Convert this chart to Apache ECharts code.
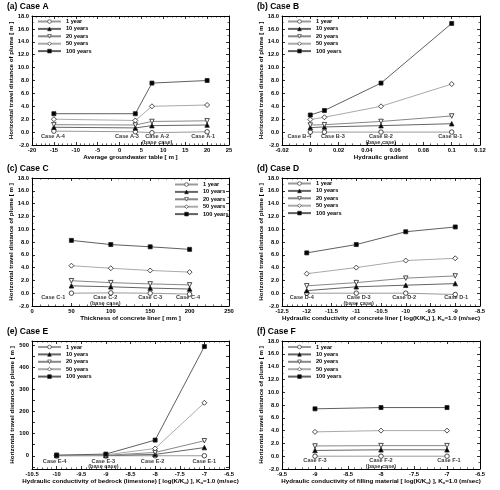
<!DOCTYPE html>
<html><head><meta charset="utf-8">
<script src="https://cdn.jsdelivr.net/npm/echarts@6/dist/echarts.min.js"></script>
<style>html,body{margin:0;padding:0;background:#fff}#c{width:500px;height:490px}</style>
</head><body><div id="c"></div>
<script>
// ---- data ----
const seriesNames = ['1 year', '10 years', '20 years', '50 years', '100 years'];

const aX = [-15, 3.6, 7.4, 20];
const a1 = [0.15, 0.05, -0.1, 0.05];
const a10 = [0.75, 0.65, 1.0, 1.1];
const a20 = [1.15, 1.1, 1.65, 1.75];
const a50 = [2.0, 1.8, 4.0, 4.2];
const a100 = [2.85, 2.85, 7.6, 8.0];
const aCases = ['Case A-4', 'Case A-3', 'Case A-2\n(base case)', 'Case A-1'];
const aCaseX = [-15.2, 1.7, 8.6, 19.1];

const bX = [0, 0.01, 0.05, 0.1];
const b1 = [0, 0, 0, 0];
const b10 = [0.7, 0.8, 1.0, 1.3];
const b20 = [1.1, 1.15, 1.65, 2.5];
const b50 = [1.95, 2.3, 4.0, 7.45];
const b100 = [2.65, 3.35, 7.6, 16.85];
const bCases = ['Case B-4', 'Case B-3', 'Case B-2\n(base case)', 'Case B-1'];
const bCaseX = [-0.0077, 0.016, 0.05, 0.099];

const cX = [50, 100, 150, 200];
const c1 = [0, 0.05, 0, -0.15];
const c10 = [1.15, 1.0, 0.8, 0.65];
const c20 = [1.95, 1.65, 1.45, 1.3];
const c50 = [4.3, 3.9, 3.55, 3.3];
const c100 = [8.25, 7.6, 7.25, 6.85];
const cCases = ['Case C-1', 'Case C-2\n(base case)', 'Case C-3', 'Case C-4'];
const cCaseX = [27, 93, 150, 198];

const dX = [-12, -11, -10, -9];
const d1 = [0, 0, 0, -0.2];
const d10 = [0.4, 1.0, 1.25, 1.5];
const d20 = [1.15, 1.65, 2.35, 2.7];
const d50 = [3.05, 4.0, 5.1, 5.45];
const d100 = [6.3, 7.6, 9.6, 10.35];
const dCases = ['Case D-4', 'Case D-3\n(base case)', 'Case D-2', 'Case D-1'];
const dCaseX = [-12.1, -10.95, -10.03, -8.98];

const eX = [-10, -9, -8, -7];
const e1 = [0, 0, 0, 0];
const e10 = [0.7, 1.0, 6, 37];
const e20 = [1.1, 1.65, 15, 68];
const e50 = [2.0, 4.0, 33, 240];
const e100 = [2.8, 7.6, 71, 495];
const eCases = ['Case E-4', 'Case E-3\n(base case)', 'Case E-2', 'Case E-1'];
const eCaseX = [-10.04, -9.05, -8.05, -7.0];

const fX = [-9, -8, -7];
const f1 = [0, 0, 0];
const f10 = [0.9, 1.0, 1.0];
const f20 = [1.6, 1.65, 1.65];
const f50 = [3.8, 4.0, 4.0];
const f100 = [7.4, 7.6, 7.6];
const fCases = ['Case F-3', 'Case F-2\n(base case)', 'Case F-1'];
const fCaseX = [-9.0, -8.0, -6.97];

const yTicksE = [0, 100, 200, 300, 400, 500];
const yMinorTicksE = [-50, 0, 50, 100, 150, 200, 250, 300, 350, 400, 450, 500];

// ---- styling ----
const FONT = 'Liberation Sans, Arial, Helvetica, sans-serif';
const lineColors = ['#9a9a9a', '#666666', '#888888', '#aaaaaa', '#606060'];
const fills = ['#fff', '#000', '#fff', '#fff', '#000'];
const symbols = ['circle', 'triangle', 'triangle', 'diamond', 'rect'];
const rotates = [0, 0, 180, 0, 0];
const symSizes = [4.5, 4.5, 4.5, 5, 4];

const option = {
  animation: false,
  backgroundColor: '#fff',
  textStyle: { fontFamily: FONT },
  title: [], legend: [], grid: [], xAxis: [], yAxis: [], series: []
};

function subName(prefix) {
  return '{a|' + prefix + ' [ log(K/K}{s|o}{a|) ], K}{s|o}{a|=1.0 (m/sec)}';
}

function panel(i, p) {
  option.title.push({
    text: p.title, left: p.left - 25, top: p.top - 14, padding: 0,
    textStyle: { fontSize: 8.5, fontWeight: 'bold', color: '#000', fontFamily: FONT }
  });
  option.grid.push({ left: p.left, top: p.top, width: p.w, height: p.h, outerBoundsMode: 'none' });
  const lblStyle = { color: '#000', fontSize: 5.8, fontWeight: 'bold', fontFamily: FONT };
  const nameStyle = { color: '#000', fontSize: 6.2, fontWeight: 'bold', fontFamily: FONT,
    rich: { a: { fontSize: 6.2, fontWeight: 'bold', fontFamily: FONT },
            s: { fontSize: 4.2, fontWeight: 'bold', fontFamily: FONT, verticalAlign: 'bottom', padding: [3, 0, 0, 0] } } };
  const axLine = { show: true, onZero: false, lineStyle: { color: '#000', width: 1 } };
  const tick = { show: true, inside: true, length: 3, lineStyle: { color: '#000', width: 0.8 } };
  const minor = (n) => ({ show: true, splitNumber: n, length: 1.6, lineStyle: { color: '#000', width: 0.6 } });
  const xBase = { type: 'value', gridIndex: i, min: p.xMin, max: p.xMax, interval: p.xInt,
    axisLine: axLine, axisTick: tick, minorTick: minor(p.xMinor), splitLine: { show: false } };
  option.xAxis.push(Object.assign({}, xBase, {
    position: 'bottom', name: p.xName, nameLocation: 'middle', nameGap: 8.5, nameTextStyle: nameStyle,
    axisLabel: Object.assign({ margin: 2.5 }, lblStyle)
  }));
  option.xAxis.push(Object.assign({}, xBase, { position: 'top', axisLabel: { show: false } }));
  let yBase;
  const yName = 'Horizontal travel distance of plume [ m ]';
  if (p.yCustom) {
    yBase = { type: 'value', gridIndex: i, min: p.yMin, max: p.yMax,
      axisLine: axLine, axisTick: Object.assign({}, tick, { customValues: p.yTickVals }),
      minorTick: { show: false }, splitLine: { show: false } };
    option.yAxis.push(Object.assign({}, yBase, {
      position: 'left', name: yName, nameLocation: 'middle',
      nameGap: 17, nameTextStyle: nameStyle,
      axisLabel: Object.assign({ margin: 3, customValues: p.yLabelVals }, lblStyle)
    }));
  } else {
    yBase = { type: 'value', gridIndex: i, min: p.yMin, max: p.yMax, interval: p.yInt,
      axisLine: axLine, axisTick: tick, minorTick: minor(2), splitLine: { show: false } };
    option.yAxis.push(Object.assign({}, yBase, {
      position: 'left', name: yName, nameLocation: 'middle',
      nameGap: 17, nameTextStyle: nameStyle,
      axisLabel: Object.assign({ margin: 3, formatter: v => v.toFixed(1) }, lblStyle)
    }));
  }
  option.yAxis.push(Object.assign({}, yBase, { position: 'right', axisLabel: { show: false }, name: '' }));

  option.legend.push({
    data: seriesNames, orient: 'vertical', left: p.legLeft, top: p.legTop,
    itemWidth: 23, itemHeight: 4.6, itemGap: 1.4, padding: 0,
    itemStyle: { borderWidth: 0.6 },
    textStyle: { fontSize: 5.6, fontWeight: 'bold', color: '#000', fontFamily: FONT, lineHeight: 5.6 },
    selectedMode: false
  });

  p.ys.forEach((ys, k) => {
    option.series.push({
      type: 'line', name: seriesNames[k], xAxisIndex: 2 * i, yAxisIndex: 2 * i,
      data: p.xs.map((x, j) => [x, ys[j]]),
      symbol: symbols[k], symbolRotate: rotates[k], symbolSize: symSizes[k], showAllSymbol: true,
      lineStyle: { color: lineColors[k], width: 1 },
      itemStyle: { color: fills[k], borderColor: '#222', borderWidth: 0.8 },
      emphasis: { disabled: true }, z: 3 + k
    });
  });
  option.series.push({
    type: 'scatter', name: 'cases' + i, xAxisIndex: 2 * i, yAxisIndex: 2 * i,
    symbol: 'circle', symbolSize: 1, itemStyle: { color: 'rgba(0,0,0,0)' }, silent: true,
    data: p.caseX.map((x, j) => ({ value: [x, p.caseY], name: p.cases[j] })),
    label: { show: true, position: 'bottom', distance: 0, formatter: '{b}', align: 'center',
      fontSize: 5.6, fontWeight: 'bold', color: '#000', fontFamily: FONT, lineHeight: 5.2 },
    labelLayout: { hideOverlap: false },
    z: 10
  });
}

const common = { yMin: -2, yMax: 18, yInt: 2 };
panel(0, Object.assign({}, common, { title: '(a) Case A', left: 32, top: 16, w: 197, h: 129,
  xMin: -20, xMax: 25, xInt: 5, xMinor: 5, xName: 'Average groundwater table [ m ]',
  xs: aX, ys: [a1, a10, a20, a50, a100], cases: aCases, caseX: aCaseX, caseY: -0.25,
  legLeft: 37, legTop: 18.5 }));
panel(1, Object.assign({}, common, { title: '(b) Case B', left: 282, top: 16, w: 198, h: 129,
  xMin: -0.02, xMax: 0.12, xInt: 0.02, xMinor: 4, xName: 'Hydraulic gradient',
  xs: bX, ys: [b1, b10, b20, b50, b100], cases: bCases, caseX: bCaseX, caseY: -0.25,
  legLeft: 287, legTop: 18.5 }));
panel(2, Object.assign({}, common, { title: '(c) Case C', left: 32, top: 178, w: 197, h: 128,
  xMin: 0, xMax: 250, xInt: 50, xMinor: 5, xName: 'Thickness of concrete liner [ mm ]',
  xs: cX, ys: [c1, c10, c20, c50, c100], cases: cCases, caseX: cCaseX, caseY: -0.25,
  legLeft: 174, legTop: 181.5 }));
panel(3, Object.assign({}, common, { title: '(d) Case D', left: 282, top: 178, w: 198, h: 128,
  xMin: -12.5, xMax: -8.5, xInt: 0.5, xMinor: 5, xName: subName('Hydraulic conductivity of concrete liner'),
  xs: dX, ys: [d1, d10, d20, d50, d100], cases: dCases, caseX: dCaseX, caseY: -0.25,
  legLeft: 287, legTop: 180.5 }));
panel(4, { title: '(e) Case E', left: 32, top: 341, w: 197, h: 128,
  yMin: -60, yMax: 520, yCustom: true, yTickVals: yMinorTicksE, yLabelVals: yTicksE,
  xMin: -10.5, xMax: -6.5, xInt: 0.5, xMinor: 5, xName: subName('Hydraulic conductivity of bedrock (limestone)'),
  xs: eX, ys: [e1, e10, e20, e50, e100], cases: eCases, caseX: eCaseX, caseY: -10,
  legLeft: 37, legTop: 344 });
panel(5, Object.assign({}, common, { title: '(f) Case F', left: 282, top: 341, w: 198, h: 128,
  xMin: -9.5, xMax: -6.5, xInt: 0.5, xMinor: 5, xName: subName('Hydraulic conductivity of filling material'),
  xs: fX, ys: [f1, f10, f20, f50, f100], cases: fCases, caseX: fCaseX, caseY: -0.25,
  legLeft: 287, legTop: 344 }));

const chart = echarts.init(document.getElementById('c'), null, { renderer: 'canvas' });
chart.setOption(option);
</script></body></html>
